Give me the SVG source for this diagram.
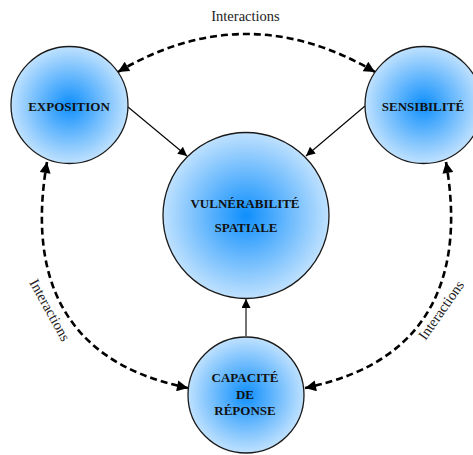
<svg xmlns="http://www.w3.org/2000/svg" width="473" height="455" viewBox="0 0 473 455">
<defs>
<radialGradient id="blue" cx="50%" cy="50%" r="50%">
<stop offset="0%" stop-color="#0f8ffc"/>
<stop offset="100%" stop-color="#bfe1fe"/>
</radialGradient>
<marker id="ah" viewBox="0 0 10 10" refX="10" refY="5" markerWidth="10" markerHeight="9" markerUnits="userSpaceOnUse" orient="auto">
<path d="M0,0 L10,5 L0,10 Z" fill="#000"/>
</marker>
<marker id="dh" viewBox="0 0 10 10" refX="10" refY="5" markerWidth="13" markerHeight="11" markerUnits="userSpaceOnUse" orient="auto-start-reverse">
<path d="M0,0 L10,5 L0,10 Z" fill="#000"/>
</marker>
</defs>
<style>
.node{fill:url(#blue);stroke:#1a1a1a;stroke-width:1.3}
.lbl{font-family:"Liberation Serif",serif;font-weight:bold;font-size:13px;fill:#111;text-anchor:middle}
.int{font-family:"Liberation Serif",serif;font-size:14.5px;fill:#222;text-anchor:middle}
.solid{stroke:#000;stroke-width:1.1;fill:none;marker-end:url(#ah)}
.dash{stroke:#000;stroke-width:2.6;fill:none;stroke-dasharray:7 4;marker-start:url(#dh);marker-end:url(#dh)}
</style>
<rect width="473" height="455" fill="#fff"/>
<g id="connectors">
<path class="dash" d="M118,72 Q246,-4 375,72"/>
<path class="dash" d="M47,162 C30,260 50,360 188,388"/>
<path class="dash" d="M446,162 C463,260 443,360 305,388"/>
<line class="solid" x1="128" y1="107" x2="187" y2="156"/>
<line class="solid" x1="365" y1="106" x2="306" y2="156"/>
<line class="solid" x1="246" y1="336" x2="246" y2="299"/>
</g>
<g id="labels">
<text class="int" x="245.5" y="21">Interactions</text>
<text class="int" transform="translate(50,310) rotate(61)" y="5">Interactions</text>
<text class="int" transform="translate(441,310) rotate(-55)" y="5">Interactions</text>
</g>
<g id="exposition">
<circle class="node" cx="69.5" cy="105" r="58.5"/>
<text class="lbl" x="69" y="110.5">EXPOSITION</text>
</g>
<g id="sensibilite">
<circle class="node" cx="423.5" cy="105" r="58.5"/>
<text class="lbl" x="423" y="110.5">SENSIBILITÉ</text>
</g>
<g id="vulnerabilite">
<circle class="node" cx="246" cy="215.5" r="83"/>
<text class="lbl" x="245" y="207.5" font-size="13.5">VULNÉRABILITÉ</text>
<text class="lbl" x="246" y="231.5" font-size="13.5">SPATIALE</text>
</g>
<g id="capacite">
<circle class="node" cx="246" cy="395" r="58"/>
<text class="lbl" x="245" y="382">CAPACITÉ</text>
<text class="lbl" x="245" y="399">DE</text>
<text class="lbl" x="245" y="415">RÉPONSE</text>
</g>
</svg>
